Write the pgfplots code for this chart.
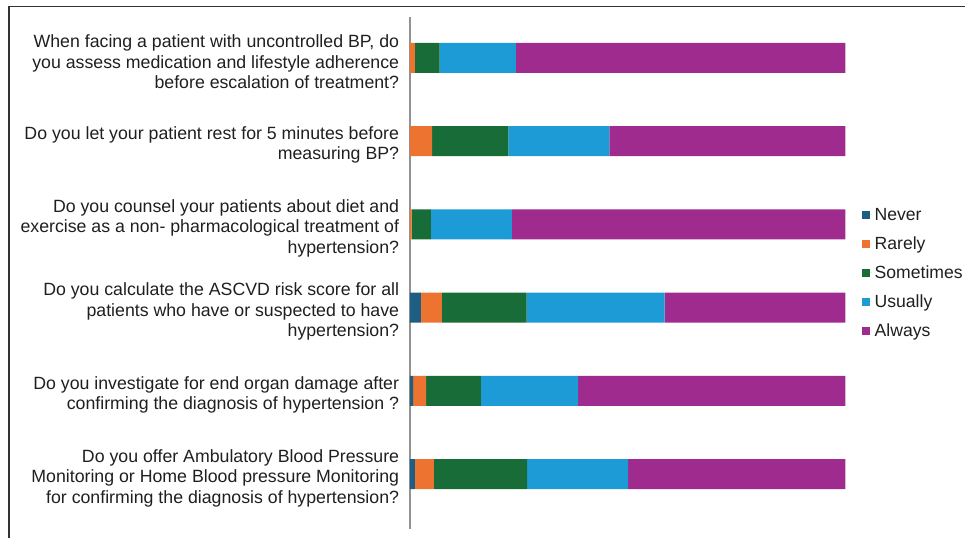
\documentclass[border=0pt]{standalone}
\usepackage{fontspec}
\setmainfont{Liberation Sans}
\usepackage{pgfplots}
\pgfplotsset{compat=1.18}
\usepackage{pgfplotstable}

\definecolor{cNever}{RGB}{30,94,130}
\definecolor{cRarely}{RGB}{237,115,48}
\definecolor{cSometimes}{RGB}{24,108,56}
\definecolor{cUsually}{RGB}{28,155,214}
\definecolor{cAlways}{RGB}{160,43,143}

% Share of respondents (%) per answer, one row per question (top to bottom)
\pgfplotstableread{
idx never rarely sometimes usually always
0   0.0   1.1    5.7      17.5    75.7
1   0.0   5.1    17.5     23.2    54.2
2   0.0   0.4    4.4      18.6    76.6
3   2.5   4.8    19.5     31.7    41.5
4   0.7   3.0    12.6     22.3    61.4
5   1.1   4.4    21.4     23.2    49.9
}\survey

\begin{document}
\begin{tikzpicture}
\useasboundingbox (0,0) rectangle (723.75pt,-402.75pt);
% outer frame
\draw[line width=0.9pt, black!80] (6.75pt,-420pt) -- (6.75pt,-4.9pt) -- (740pt,-4.9pt);
\begin{axis}[
  at={(307.5pt,-12.75pt)}, anchor=north west,
  scale only axis, width=326.6pt, height=384pt,
  xbar stacked, bar width=22.5pt,
  xmin=0, xmax=100, ymin=-0.49, ymax=5.66, y dir=reverse,
  axis x line=none, axis y line*=left,
  y axis line style={gray!85, line width=1.1pt},
  ytick={0,...,5}, major tick length=0pt,
  yticklabels={
    {When facing a patient with uncontrolled BP, do\\you assess medication and lifestyle adherence\\before escalation of treatment?},
    {Do you let your patient rest for 5 minutes before\\measuring BP?},
    {Do you counsel your patients about diet and\\exercise as a non- pharmacological treatment of\\hypertension?},
    {Do you calculate the ASCVD risk score for all\\patients who have or suspected to have\\hypertension?},
    {Do you investigate for end organ damage after\\confirming the diagnosis of hypertension ?},
    {Do you offer Ambulatory Blood Pressure\\Monitoring or Home Blood pressure Monitoring\\for confirming the diagnosis of hypertension?}
  },
  yticklabel style={align=right, font=\fontsize{13.3}{15.3}\selectfont, text=black!88, inner sep=0pt, xshift=-8pt, yshift=-3pt},
  legend cell align=left,
  legend style={at={(1.037,0.5)}, anchor=west, draw=none, fill=none,
    font=\fontsize{13.2}{15}\selectfont, text=black!88, row sep=6.7pt,
    inner sep=0pt},
  legend image code/.code={\fill[#1] (0pt,-3.1pt) rectangle (6.2pt,3.1pt);
    \path (0pt,0pt) -- (7.6pt,0pt);},
]
\addplot[fill=cNever, draw=none] table[x=never, y=idx] {\survey};
\addplot[fill=cRarely, draw=none] table[x=rarely, y=idx] {\survey};
\addplot[fill=cSometimes, draw=none] table[x=sometimes, y=idx] {\survey};
\addplot[fill=cUsually, draw=none] table[x=usually, y=idx] {\survey};
\addplot[fill=cAlways, draw=none] table[x=always, y=idx] {\survey};
\legend{Never, Rarely, Sometimes, Usually, Always}
\end{axis}
\end{tikzpicture}
\end{document}
